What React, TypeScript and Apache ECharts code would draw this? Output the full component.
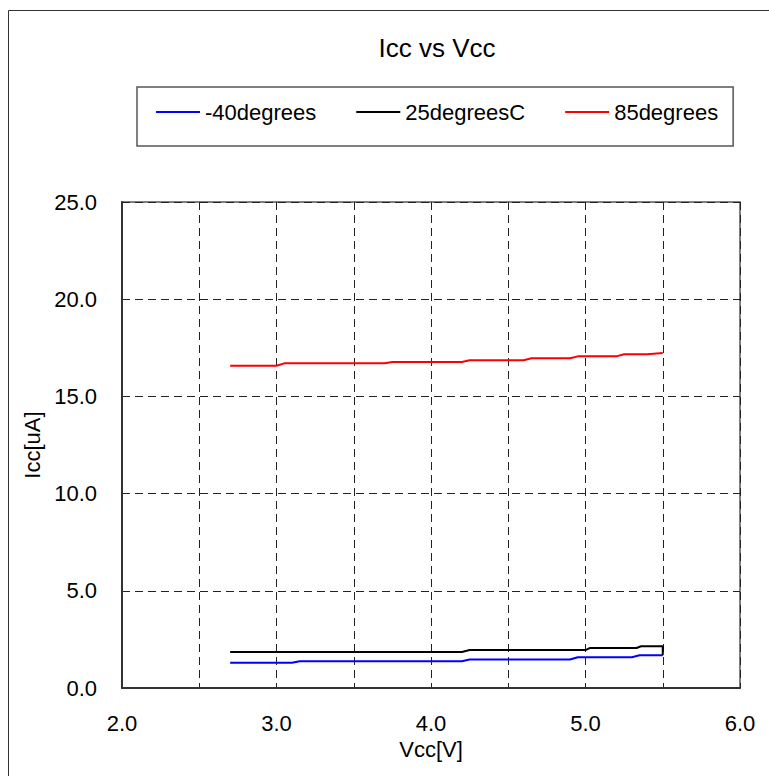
import React, { useEffect, useRef } from "react";
import * as echarts from "echarts";

const titleText = "Icc vs Vcc";
const seriesNames = ["-40degrees", "25degreesC", "85degrees"];
const seriesColors = ["#0000FF", "#000000", "#FF0000"];

// [Vcc, Icc] breakpoints
const vccMinus40 = [2.7, 3.1, 3.15, 4.2, 4.25, 4.9, 4.95, 5.3, 5.35, 5.5];
const iccMinus40 = [1.3, 1.3, 1.38, 1.38, 1.47, 1.47, 1.58, 1.58, 1.68, 1.68];

const vcc25 = [2.7, 4.2, 4.25, 5.0, 5.03, 5.33, 5.36, 5.5, 5.5];
const icc25 = [1.85, 1.85, 1.95, 1.95, 2.06, 2.06, 2.15, 2.15, 1.68];

const vcc85 = [2.7, 3.0, 3.05, 3.7, 3.75, 4.2, 4.25, 4.6, 4.65, 4.9, 4.95, 5.2, 5.25, 5.4, 5.5];
const icc85 = [16.58, 16.58, 16.7, 16.7, 16.77, 16.77, 16.86, 16.86, 16.96, 16.96, 17.06, 17.06, 17.17, 17.17, 17.23];

const xMin = 2, xMax = 6, xStep = 0.5;
const yMin = 0, yMax = 25, yStep = 5;

const FONT = "'Liberation Sans', Arial, sans-serif";

function pairs(xs: number[], ys: number[]) {
  return xs.map((x, i) => [x, ys[i]]);
}

export default function App() {
  const ref = useRef<HTMLDivElement>(null);
  useEffect(() => {
    if (!ref.current) return;
    const chart = echarts.init(ref.current, undefined, { renderer: "svg" });
    const data = [pairs(vccMinus40, iccMinus40), pairs(vcc25, icc25), pairs(vcc85, icc85)];
    chart.setOption({
      animation: false,
      backgroundColor: "#ffffff",
      textStyle: { fontFamily: FONT, color: "#000" },
      graphic: [
        {
          type: "rect",
          shape: { x: 8.5, y: 10.5, width: 1000, height: 1000 },
          style: { fill: "none", stroke: "#333", lineWidth: 1 },
          z: -10,
          silent: true,
        },
      ],
      title: {
        text: titleText,
        left: 437,
        textAlign: "center",
        top: 35,
        padding: 0,
        textStyle: { fontFamily: FONT, fontSize: 26, fontWeight: "normal", color: "#000" },
      },
      legend: {
        left: 137,
        top: 87,
        orient: "horizontal",
        padding: [14, 15, 23, 19],
        itemGap: 40,
        itemWidth: 44,
        itemHeight: 2,
        icon: "rect",
        borderColor: "#555",
        borderWidth: 1.5,
        textStyle: { fontFamily: FONT, fontSize: 22, color: "#000" },
        data: seriesNames.map((name, i) => ({
          name,
          icon: "rect",
          itemStyle: { color: seriesColors[i], borderWidth: 0 },
        })),
      },
      grid: {
        left: 122,
        top: 202,
        width: 618,
        height: 486,
        show: true,
        borderColor: "#555",
        borderWidth: 1.5,
        backgroundColor: "transparent",
      },
      xAxis: {
        type: "value",
        min: xMin,
        max: xMax,
        interval: xStep,
        name: "Vcc[V]",
        nameLocation: "middle",
        nameGap: 45,
        nameTextStyle: { fontFamily: FONT, fontSize: 22, color: "#000" },
        axisLine: { show: true, lineStyle: { color: "#333", width: 2 } },
        axisTick: { show: false },
        axisLabel: {
          fontFamily: FONT,
          fontSize: 22,
          color: "#000",
          margin: 24,
          formatter: (v: number) => (Math.abs(v - Math.round(v)) < 1e-9 ? v.toFixed(1) : ""),
        },
        splitLine: { show: true, lineStyle: { color: "#222", type: [8, 5], width: 1 } },
      },
      yAxis: {
        type: "value",
        min: yMin,
        max: yMax,
        interval: yStep,
        name: "Icc[uA]",
        nameLocation: "middle",
        nameGap: 71,
        nameTextStyle: { fontFamily: FONT, fontSize: 22, color: "#000" },
        axisLine: { show: true, lineStyle: { color: "#333", width: 2 } },
        axisTick: { show: false },
        axisLabel: {
          fontFamily: FONT,
          fontSize: 22,
          color: "#000",
          margin: 25,
          formatter: (v: number) => v.toFixed(1),
        },
        splitLine: { show: true, lineStyle: { color: "#222", type: [8, 5], width: 1 } },
      },
      series: seriesNames.map((name, i) => ({
        name,
        type: "line",
        data: data[i],
        symbol: "none",
        color: seriesColors[i],
        lineStyle: { color: seriesColors[i], width: 2 },
        z: 5,
      })),
    });
    return () => chart.dispose();
  }, []);
  return (
    <div
      ref={ref}
      style={{ position: "fixed", left: 0, top: 0, width: 769, height: 776 }}
    />
  );
}
